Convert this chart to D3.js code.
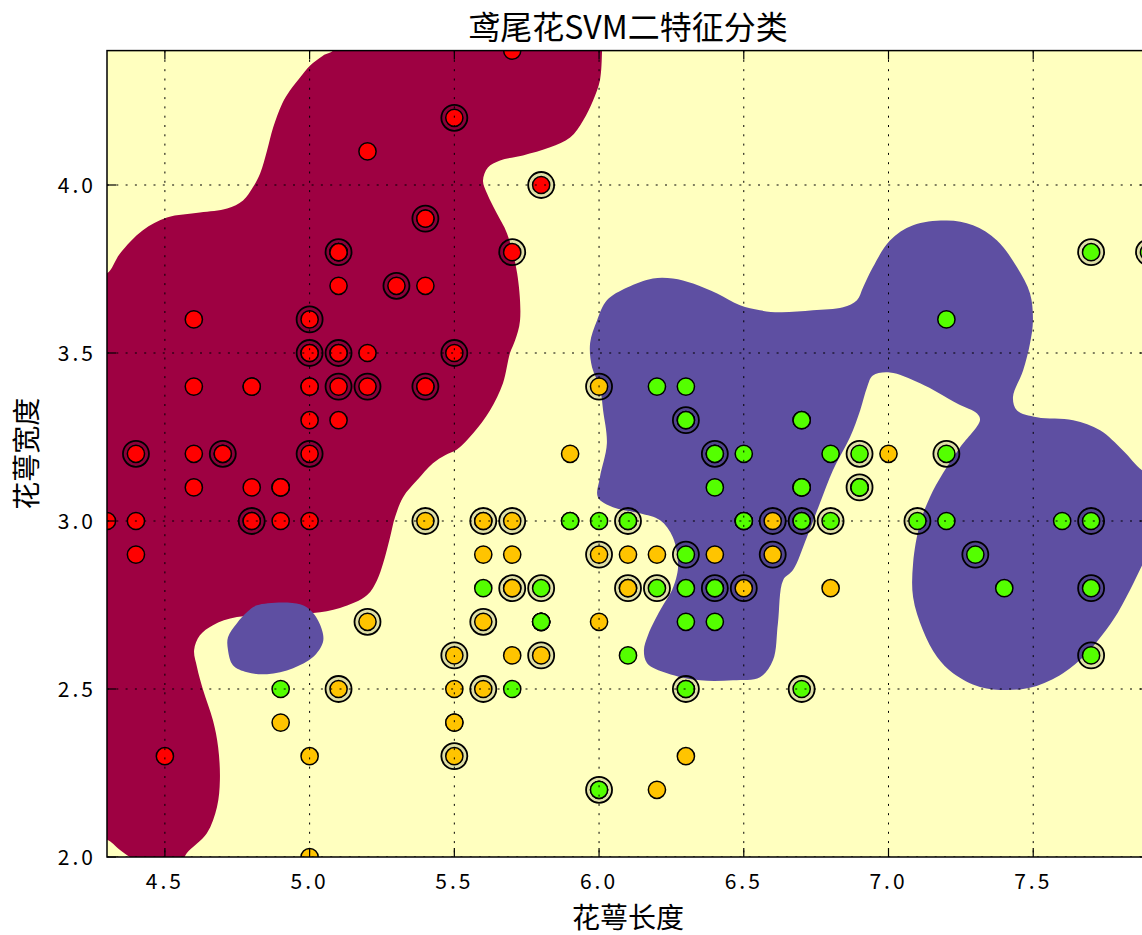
<!DOCTYPE html>
<html>
<head>
<meta charset="utf-8">
<script src="https://cdn.jsdelivr.net/npm/d3@7"></script>
<style>
  body { margin: 0; background: #ffffff; }
  text { font-family: "Noto Sans CJK SC", "Noto Sans", sans-serif; fill: #000; }
</style>
</head>
<body>
<svg id="chart" width="1142" height="935"></svg>
<script>
// Iris measurements: [sepal length, sepal width]
const setosa = [
  [5.1,3.5],[4.9,3.0],[4.7,3.2],[4.6,3.1],[5.0,3.6],[5.4,3.9],[4.6,3.4],[5.0,3.4],[4.4,2.9],[4.9,3.1],
  [5.4,3.7],[4.8,3.4],[4.8,3.0],[4.3,3.0],[5.8,4.0],[5.7,4.4],[5.4,3.9],[5.1,3.5],[5.7,3.8],[5.1,3.8],
  [5.4,3.4],[5.1,3.7],[4.6,3.6],[5.1,3.3],[4.8,3.4],[5.0,3.0],[5.0,3.4],[5.2,3.5],[5.2,3.4],[4.7,3.2],
  [4.8,3.1],[5.4,3.4],[5.2,4.1],[5.5,4.2],[4.9,3.1],[5.0,3.2],[5.5,3.5],[4.9,3.1],[4.4,3.0],[5.1,3.4],
  [5.0,3.5],[4.5,2.3],[4.4,3.2],[5.0,3.5],[5.1,3.8],[4.8,3.0],[5.1,3.8],[4.6,3.2],[5.3,3.7],[5.0,3.3]
];
const versicolor = [
  [7.0,3.2],[6.4,3.2],[6.9,3.1],[5.5,2.3],[6.5,2.8],[5.7,2.8],[6.3,3.3],[4.9,2.4],[6.6,2.9],[5.2,2.7],
  [5.0,2.0],[5.9,3.0],[6.0,2.2],[6.1,2.9],[5.6,2.9],[6.7,3.1],[5.6,3.0],[5.8,2.7],[6.2,2.2],[5.6,2.5],
  [5.9,3.2],[6.1,2.8],[6.3,2.5],[6.1,2.8],[6.4,2.9],[6.6,3.0],[6.8,2.8],[6.7,3.0],[6.0,2.9],[5.7,2.6],
  [5.5,2.4],[5.5,2.4],[5.8,2.7],[6.0,2.7],[5.4,3.0],[6.0,3.4],[6.7,3.1],[6.3,2.3],[5.6,3.0],[5.5,2.5],
  [5.5,2.6],[6.1,3.0],[5.8,2.6],[5.0,2.3],[5.6,2.7],[5.7,3.0],[5.7,2.9],[6.2,2.9],[5.1,2.5],[5.7,2.8]
];
const virginica = [
  [6.3,3.3],[5.8,2.7],[7.1,3.0],[6.3,2.9],[6.5,3.0],[7.6,3.0],[4.9,2.5],[7.3,2.9],[6.7,2.5],[7.2,3.6],
  [6.5,3.2],[6.4,2.7],[6.8,3.0],[5.7,2.5],[5.8,2.8],[6.4,3.2],[6.5,3.0],[7.7,3.8],[7.7,2.6],[6.0,2.2],
  [6.9,3.2],[5.6,2.8],[7.7,2.8],[6.3,2.7],[6.7,3.3],[7.2,3.2],[6.2,2.8],[6.1,3.0],[6.4,2.8],[7.2,3.0],
  [7.4,2.8],[7.9,3.8],[6.4,2.8],[6.3,2.8],[6.1,2.6],[7.7,3.0],[6.3,3.4],[6.4,3.1],[6.0,3.0],[6.9,3.1],
  [6.7,3.1],[6.9,3.1],[5.8,2.7],[6.8,3.2],[6.7,3.3],[6.7,3.0],[6.3,2.5],[6.5,3.0],[6.2,3.4],[5.9,3.0]
];

// Support vectors of the fitted RBF classifier
const supportVectors = [
  [5.5,4.2],[5.8,4.0],[5.4,3.9],[5.1,3.8],[5.7,3.8],[5.3,3.7],[5.0,3.6],[5.0,3.5],[5.1,3.5],[5.5,3.5],
  [5.1,3.4],[5.2,3.4],[5.4,3.4],[4.4,3.2],[4.7,3.2],[5.0,3.2],[4.8,3.0],
  [5.4,3.0],[6.0,3.4],[6.3,3.3],[6.4,3.2],[5.6,3.0],[5.7,3.0],[6.1,3.0],[6.6,3.0],[6.7,3.0],[6.8,3.0],
  [6.0,2.9],[6.3,2.9],[6.6,2.9],[5.7,2.8],[5.8,2.8],[6.1,2.8],[6.2,2.8],[6.4,2.8],[6.5,2.8],
  [5.2,2.7],[5.6,2.7],[5.5,2.6],[5.8,2.6],[5.1,2.5],[5.6,2.5],[6.3,2.5],[6.7,2.5],[5.5,2.3],[6.0,2.2],
  [6.9,3.2],[7.2,3.2],[6.9,3.1],[7.1,3.0],[7.7,3.0],[7.3,2.9],[7.7,2.8],[7.7,2.6],[7.7,3.8],[7.9,3.8]
];

// Decision-region outlines (data units); the rest of the plane is predicted as versicolor
const regionSetosa = [
  [4.25,3.737],[4.30,3.737],[4.345,3.796],[4.424,3.865],[4.507,3.903],[4.621,3.918],[4.715,3.930],[4.770,3.954],
  [4.804,3.993],[4.829,4.034],[4.853,4.103],[4.874,4.171],[4.905,4.242],[4.932,4.281],[4.967,4.320],
  [5.001,4.355],[5.046,4.385],[5.081,4.40],[5.10,4.45],[6.00,4.45],[6.010,4.40],[6.010,4.391],[6.003,4.311],
  [5.979,4.251],[5.945,4.192],[5.900,4.141],[5.831,4.112],[5.737,4.088],[5.658,4.073],[5.616,4.052],
  [5.599,4.013],[5.613,3.975],[5.647,3.915],[5.682,3.856],[5.717,3.737],[5.727,3.597],[5.710,3.538],
  [5.692,3.499],[5.668,3.410],[5.623,3.329],[5.565,3.261],[5.509,3.213],[5.468,3.196],[5.426,3.172],
  [5.371,3.121],[5.323,3.071],[5.295,3.011],[5.278,2.952],[5.254,2.874],[5.233,2.824],[5.198,2.779],
  [5.105,2.741],[5.012,2.726],[4.898,2.720],[4.749,2.714],[4.666,2.690],[4.621,2.660],[4.601,2.616],
  [4.611,2.565],[4.632,2.497],[4.666,2.407],[4.684,2.327],[4.690,2.229],[4.680,2.149],[4.645,2.071],
  [4.576,2.012],[4.552,1.98],[4.424,1.98],[4.345,2.021],[4.30,2.051],[4.25,2.051]
];
const regionVirginicaSmall = [
  [4.967,2.752],[5.012,2.726],[5.043,2.675],[5.046,2.639],[5.012,2.595],[4.943,2.562],[4.853,2.544],
  [4.784,2.550],[4.735,2.571],[4.718,2.616],[4.718,2.654],[4.749,2.696],[4.784,2.729],[4.818,2.749]
];
const regionVirginicaLarge = [
  [6.269,2.839],[6.252,2.794],[6.221,2.749],[6.193,2.705],[6.169,2.660],[6.155,2.616],[6.166,2.577],
  [6.235,2.547],[6.349,2.526],[6.463,2.526],[6.556,2.535],[6.601,2.586],[6.618,2.696],[6.636,2.824],
  [6.670,2.854],[6.718,2.952],[6.763,3.053],[6.808,3.151],[6.867,3.249],[6.902,3.329],[6.926,3.398],
  [6.946,3.433],[7.005,3.442],[7.109,3.410],[7.237,3.350],[7.306,3.320],[7.316,3.300],[7.247,3.219],
  [7.188,3.142],[7.143,3.071],[7.109,2.993],[7.085,2.874],[7.085,2.773],[7.119,2.675],[7.168,2.595],
  [7.223,2.547],[7.316,2.506],[7.409,2.497],[7.499,2.506],[7.603,2.547],[7.686,2.607],[7.776,2.705],
  [7.834,2.794],[7.876,2.868],[7.938,2.972],[7.938,3.121],[7.876,3.151],[7.810,3.210],[7.731,3.270],
  [7.638,3.300],[7.513,3.309],[7.444,3.329],[7.430,3.368],[7.465,3.448],[7.489,3.529],[7.499,3.597],
  [7.489,3.677],[7.444,3.755],[7.375,3.835],[7.292,3.880],[7.202,3.894],[7.085,3.880],[7.005,3.835],
  [6.946,3.755],[6.912,3.695],[6.891,3.657],[6.843,3.636],[6.739,3.627],[6.625,3.621],[6.556,3.627],
  [6.487,3.642],[6.408,3.677],[6.325,3.707],[6.255,3.722],[6.186,3.722],[6.097,3.695],[6.027,3.657],
  [5.993,3.597],[5.969,3.529],[5.976,3.457],[6.003,3.398],[6.014,3.329],[6.027,3.231],[6.003,3.130],
  [5.996,3.071],[6.048,3.041],[6.141,3.023],[6.211,3.002],[6.255,2.952],[6.273,2.874]
];

const xTicks = [4.5, 5.0, 5.5, 6.0, 6.5, 7.0, 7.5];
const yTicks = [2.0, 2.5, 3.0, 3.5, 4.0];
const xDomain = [4.3, 7.9];
const yDomain = [2.0, 4.4];

const titleText = "鸢尾花SVM二特征分类";
const xLabel = "花萼长度";
const yLabel = "花萼宽度";

// Colours: Spectral for the predicted regions, prism for the true classes
const regionColors = ["#9e0142", "#ffffbf", "#5e4fa2"];
const pointColors = ["#ff0000", "#ffc400", "#54ff00"];

const svg = d3.select("#chart");
const plotL = 107, plotR = 1149, plotT = 50.6, plotB = 857;
const x = d3.scaleLinear().domain(xDomain).range([plotL, plotR]);
const y = d3.scaleLinear().domain(yDomain).range([plotB, plotT]);

svg.append("defs").append("clipPath").attr("id", "plot-clip")
  .append("rect").attr("x", plotL).attr("y", plotT).attr("width", plotR - plotL).attr("height", plotB - plotT);

const plot = svg.append("g").attr("clip-path", "url(#plot-clip)");

// background = versicolor region
plot.append("rect").attr("x", plotL).attr("y", plotT).attr("width", plotR - plotL).attr("height", plotB - plotT)
  .attr("fill", regionColors[1]);

const outline = d3.line().x(d => x(d[0])).y(d => y(d[1])).curve(d3.curveCatmullRomClosed.alpha(0.5));
plot.append("path").attr("d", outline(regionSetosa)).attr("fill", regionColors[0]);
plot.append("path").attr("d", outline(regionVirginicaSmall)).attr("fill", regionColors[2]);
plot.append("path").attr("d", outline(regionVirginicaLarge)).attr("fill", regionColors[2]);

// support-vector rings
plot.append("g").selectAll("circle").data(supportVectors).join("circle")
  .attr("cx", d => x(d[0])).attr("cy", d => y(d[1])).attr("r", 13)
  .attr("fill", "rgba(0,0,0,0.12)").attr("stroke", "#000").attr("stroke-width", 1.8);

// samples, coloured by true class
const samples = [
  ...setosa.map(d => [d[0], d[1], 0]),
  ...versicolor.map(d => [d[0], d[1], 1]),
  ...virginica.map(d => [d[0], d[1], 2])
];
plot.append("g").selectAll("circle").data(samples).join("circle")
  .attr("cx", d => x(d[0])).attr("cy", d => y(d[1])).attr("r", 8.6)
  .attr("fill", d => pointColors[d[2]]).attr("stroke", "#000").attr("stroke-width", 1.5);

// dotted grid on top
const grid = plot.append("g").attr("stroke", "#000").attr("stroke-width", 1).attr("stroke-dasharray", "2,7.3");
grid.selectAll(".gx").data(xTicks).join("line")
  .attr("x1", d => x(d)).attr("x2", d => x(d)).attr("y1", plotT).attr("y2", plotB);
grid.selectAll(".gy").data(yTicks).join("line")
  .attr("y1", d => y(d)).attr("y2", d => y(d)).attr("x1", plotL).attr("x2", plotR);

// inward ticks on all sides
const tickLen = 9;
const ticks = svg.append("g").attr("stroke", "#000").attr("stroke-width", 1.2);
xTicks.forEach(t => {
  ticks.append("line").attr("x1", x(t)).attr("x2", x(t)).attr("y1", plotB).attr("y2", plotB - tickLen);
  ticks.append("line").attr("x1", x(t)).attr("x2", x(t)).attr("y1", plotT).attr("y2", plotT + tickLen);
});
yTicks.forEach(t => {
  ticks.append("line").attr("y1", y(t)).attr("y2", y(t)).attr("x1", plotL).attr("x2", plotL + tickLen);
  ticks.append("line").attr("y1", y(t)).attr("y2", y(t)).attr("x1", plotR).attr("x2", plotR - tickLen);
});

// frame
svg.append("rect").attr("x", plotL).attr("y", plotT).attr("width", plotR - plotL).attr("height", plotB - plotT)
  .attr("fill", "none").attr("stroke", "#000").attr("stroke-width", 1.5);

const fmt = d3.format(".1f");
svg.append("g").selectAll("text").data(xTicks).join("text")
  .attr("x", d => x(d)).attr("y", 889).attr("text-anchor", "middle")
  .style("font-size", "21px").style("letter-spacing", "3px")
  .text(fmt);
svg.append("g").selectAll("text").data(yTicks).join("text")
  .attr("x", 96).attr("y", d => y(d) + 7.5).attr("text-anchor", "end")
  .style("font-size", "21px").style("letter-spacing", "3px")
  .text(fmt);

svg.append("text").attr("x", (plotL + plotR) / 2).attr("y", 39).attr("text-anchor", "middle")
  .style("font-size", "32px").text(titleText);
svg.append("text").attr("x", (plotL + plotR) / 2).attr("y", 928).attr("text-anchor", "middle")
  .style("font-size", "28px").text(xLabel);
svg.append("text").attr("transform", `translate(37,${(plotT + plotB) / 2}) rotate(-90)`)
  .attr("text-anchor", "middle").style("font-size", "28px").text(yLabel);
</script>
</body>
</html>
